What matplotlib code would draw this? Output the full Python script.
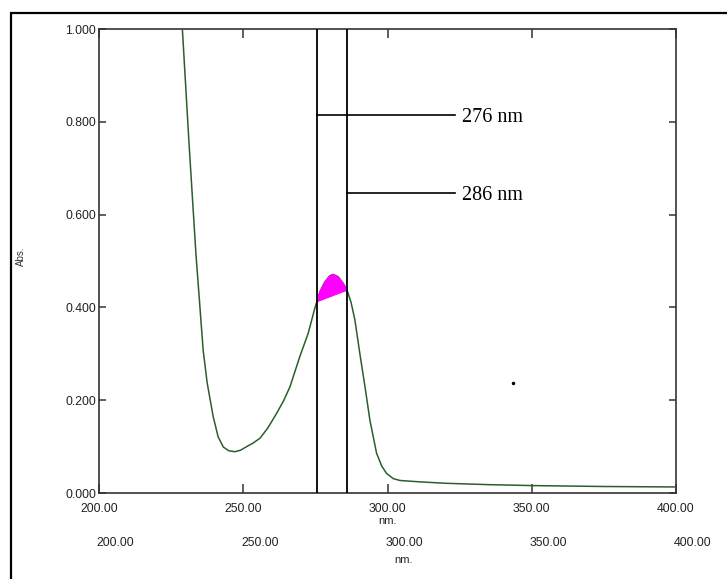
import matplotlib
matplotlib.use("Agg")
import matplotlib.pyplot as plt
from matplotlib.patches import Rectangle
from matplotlib.ticker import FormatStrFormatter
import numpy as np

# spectrum
wavelength = [228.9, 231.2, 233.6, 234.8, 236.1, 237.5, 239.6, 241.3, 243.1,
              245.0, 247.1, 249.0, 251.2, 253.5, 255.8, 258.5, 261.6, 264.0,
              266.2, 269.6, 272.5, 274.8, 275.5, 276.6, 278.3, 280.0, 281.2,
              282.9, 284.6, 286.0, 287.4, 288.7, 290.4, 292.2, 293.9, 296.2,
              298.0, 299.7, 302.0, 304.3, 311.2, 320.0, 335.0, 350.0, 375.0,
              400.0]
absorbance = [1.000, 0.754, 0.515, 0.416, 0.308, 0.237, 0.164, 0.121, 0.099,
              0.091, 0.089, 0.092, 0.100, 0.108, 0.118, 0.140, 0.172, 0.199,
              0.229, 0.294, 0.344, 0.398, 0.412, 0.434, 0.455, 0.468, 0.471,
              0.466, 0.452, 0.437, 0.410, 0.373, 0.301, 0.229, 0.157, 0.086,
              0.058, 0.042, 0.031, 0.027, 0.024, 0.021, 0.018, 0.016, 0.014,
              0.013]

marker_lines = [275.5, 286.0]
marker_labels = ['276 nm', '286 nm']
label_heights = [0.815, 0.647]
label_end = 323.4
stray_dot = (343.5, 0.237)

x_ticks = [200, 250, 300, 350, 400]
y_ticks = [0.0, 0.2, 0.4, 0.6, 0.8, 1.0]

W, H = 727, 579
fig = plt.figure(figsize=(W / 100, H / 100), dpi=100)
plt.rcParams['font.family'] = ['Liberation Sans', 'DejaVu Sans']

left, right, top, bottom = 99, 676, 29, 493
ax = fig.add_axes([left / W, 1 - bottom / H, (right - left) / W, (bottom - top) / H])

wl = np.array(wavelength)
ab = np.array(absorbance)
ax.plot(wl, ab, color='#2b5e2b', lw=1.1, zorder=3)

# magenta area between the two marker lines, closed by the chord
sel = (wl >= marker_lines[0]) & (wl <= marker_lines[1])
ax.fill(wl[sel], ab[sel], color='#ff00ff', lw=0.8, zorder=4)

for m in marker_lines:
    ax.axvline(m, color='k', lw=1.3, zorder=5)
for m, lab, h in zip(marker_lines, marker_labels, label_heights):
    ax.plot([m, label_end], [h, h], color='k', lw=1.2, zorder=5)
    ax.text(label_end + 2.3, h - 0.006, lab, family='Liberation Serif',
            fontsize=14.5, va='center', ha='left')

ax.plot([stray_dot[0]], [stray_dot[1]], 'o', color='k', ms=1.5)

ax.set_xlim(200, 400)
ax.set_ylim(0, 1)
ax.set_xticks(x_ticks)
ax.set_yticks(y_ticks)
ax.xaxis.set_major_formatter(FormatStrFormatter('%.2f'))
ax.yaxis.set_major_formatter(FormatStrFormatter('%.3f'))
ax.tick_params(axis='x', direction='in', length=6.5, width=1.1, pad=7,
               labelsize=8.8, top=True, colors='#333333', labelcolor='#222222')
ax.tick_params(axis='y', direction='in', length=4.7, width=1.1, pad=2,
               labelsize=8.8, right=True, colors='#333333', labelcolor='#222222')
for s in ax.spines.values():
    s.set_linewidth(1.2)
    s.set_color('#333333')
ax.set_xlabel('nm.', fontsize=8, labelpad=1, color='#222222')

# second, shifted row of x labels
shift = 16.5
ax2 = fig.add_axes([(left + shift) / W, 1 - (bottom + 44) / H,
                    (right - left) / W, 0.01])
ax2.set_xlim(200, 400)
ax2.set_xticks(x_ticks)
ax2.xaxis.set_major_formatter(FormatStrFormatter('%.2f'))
ax2.set_yticks([])
ax2.patch.set_visible(False)
for s in ax2.spines.values():
    s.set_visible(False)
ax2.tick_params(axis='x', length=0, pad=0, labelsize=8.8, labelcolor='#222222')
ax2.set_xlabel('nm.', fontsize=8, labelpad=4, color='#222222')

fig.text(21 / W, 1 - 256 / H, 'Abs.', rotation=90, fontsize=7,
         ha='center', va='center', color='#333333')

# outer frame (cropped at right and bottom)
frame_top = 1 - 13 / H
fig.add_artist(Rectangle((11 / W, -0.2), 1.2, frame_top + 0.2,
                         transform=fig.transFigure, fill=False, lw=1.6,
                         color='k'))

fig.savefig('out.png', dpi=100)
